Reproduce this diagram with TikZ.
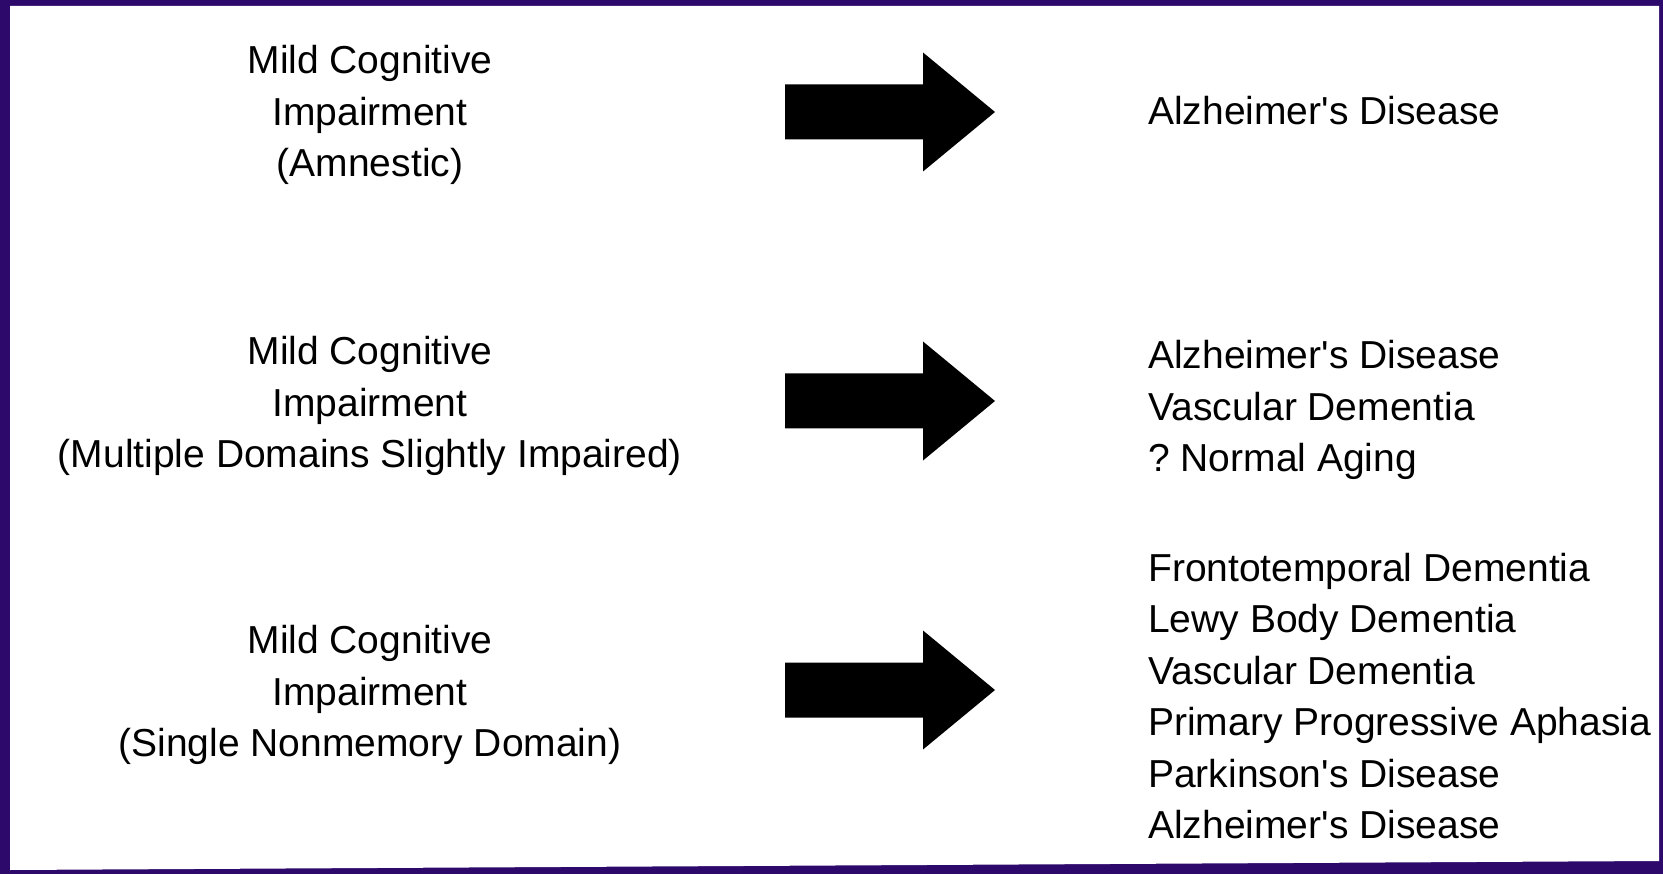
\documentclass[tikz,border=0pt]{standalone}
\usepackage{fontspec}
\newfontfamily\labelfont{Liberation Sans}
\definecolor{framepurple}{RGB}{46,9,108}
\begin{document}
\frenchspacing
\begin{tikzpicture}[x=1pt,y=-1pt,
  txt/.style={font=\labelfont\fontsize{39}{51.5}\selectfont, inner sep=0pt, text=black},
  lefttxt/.style={txt, align=center},
  righttxt/.style={txt, align=left, anchor=west},
  fatarrow/.pic={\fill[black] (0,-27.5) -- (138,-27.5) -- (138,-59.5) -- (210,0) -- (138,59.5) -- (138,27.5) -- (0,27.5) -- cycle;}]
\useasboundingbox (0,0) rectangle (1663,874);
\fill[framepurple] (0,0) rectangle (1663,874);
\fill[white] (10,6) -- (1659,6) -- (1659,861) -- (10,870) -- cycle;

\node[lefttxt] (mci1) at (370,115) {Mild Cognitive\\Impairment\\(Amnestic)};
\node[lefttxt] (mci2) at (370,406) {Mild Cognitive\\Impairment\\(Multiple Domains Slightly Impaired)};
\node[lefttxt] (mci3) at (370,695) {Mild Cognitive\\Impairment\\(Single Nonmemory Domain)};

\pic at (785,112) {fatarrow};
\pic at (785,401) {fatarrow};
\pic at (785,690) {fatarrow};

\node[righttxt] (out1) at (1148,111) {Alzheimer's Disease};
\node[righttxt] (out2) at (1148,410) {Alzheimer's Disease\\Vascular Dementia\\? Normal Aging};
\node[righttxt] (out3) at (1148,696) {Frontotemporal Dementia\\Lewy Body Dementia\\Vascular Dementia\\Primary Progressive Aphasia\\Parkinson's Disease\\Alzheimer's Disease};
\end{tikzpicture}
\end{document}
